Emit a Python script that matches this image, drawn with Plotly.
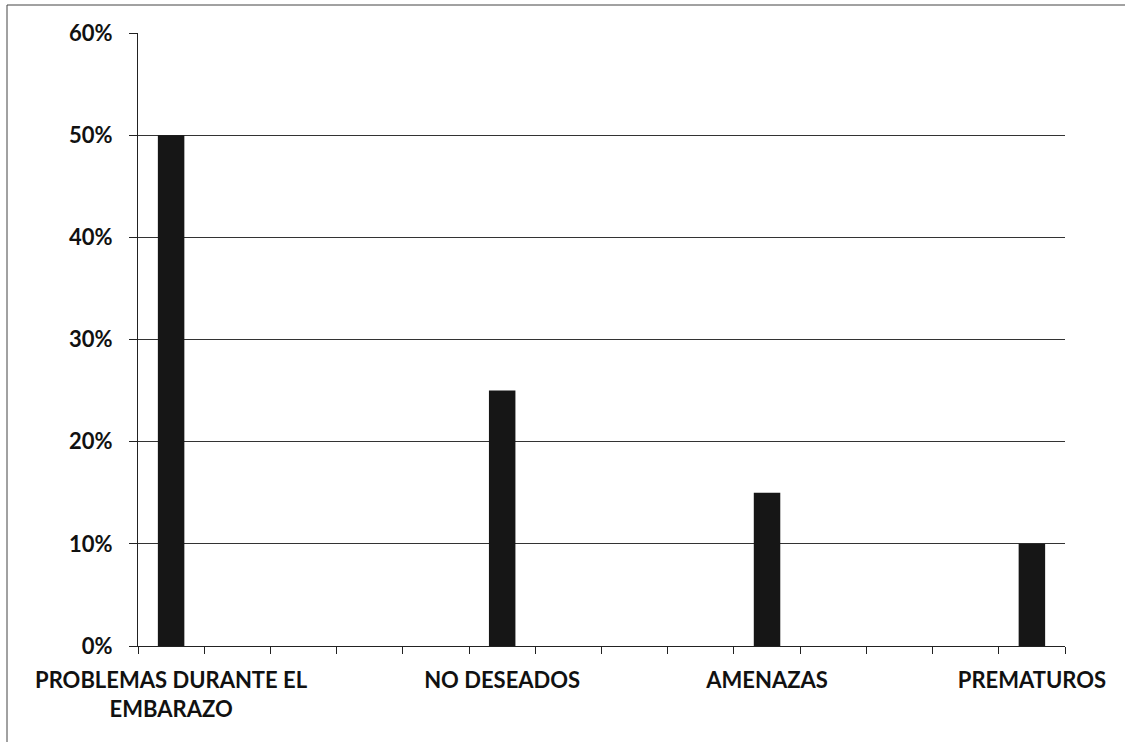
import plotly.graph_objects as go

# Categories (14 slots; unnamed slots are empty in the original chart)
categories = [
    "PROBLEMAS DURANTE EL<br>EMBARAZO", " ", "  ", "   ", "    ",
    "NO DESEADOS", "     ", "      ", "       ",
    "AMENAZAS", "        ", "         ", "          ",
    "PREMATUROS",
]
values = [0.50, None, None, None, None,
          0.25, None, None, None,
          0.15, None, None, None,
          0.10]
y_ticks = [0, 0.1, 0.2, 0.3, 0.4, 0.5, 0.6]

W, H = 1125, 742
L, R, T, B = 138, 60, 33, 96
pw, ph = W - L - R, H - T - B

family = "Lato, 'Open Sans', sans-serif"
tickfont = dict(family=family, size=22, color="#111111", weight="bold")

fig = go.Figure(go.Bar(
    x=categories, y=values,
    marker=dict(color="#161616", line=dict(width=0)),
    showlegend=False,
))

fig.update_layout(
    width=W, height=H,
    margin=dict(l=L, r=R, t=T, b=B, pad=0, autoexpand=False),
    paper_bgcolor="white", plot_bgcolor="white",
    bargap=0.6,
    font=dict(family=family, size=22, color="#111111"),
    xaxis=dict(
        type="category", categoryorder="array", categoryarray=categories,
        tickson="boundaries", ticks="outside", ticklen=7, tickwidth=1,
        tickcolor="#222222", showline=True, linecolor="#222222", linewidth=1,
        showgrid=False, tickfont=tickfont, tickangle=0, automargin=False,
        ticklabelstandoff=15,
    ),
    yaxis=dict(
        range=[0, 0.6], tickvals=y_ticks, tickformat=".0%",
        ticks="outside", ticklen=8, tickwidth=1, tickcolor="#222222",
        showline=True, linecolor="#222222", linewidth=1,
        showgrid=True, gridcolor="#333333", gridwidth=1, zeroline=False,
        tickfont=tickfont, automargin=False,
        ticklabelstandoff=12,
    ),
    shapes=[
        dict(type="line", xref="paper", yref="paper",
             x0=(7 - L) / pw, x1=(W - L) / pw + 0.01, y0=(H - B - 5) / ph, y1=(H - B - 5) / ph,
             line=dict(color="#444444", width=1)),
        dict(type="line", xref="paper", yref="paper",
             x0=(7 - L) / pw, x1=(7 - L) / pw, y0=(H - B - 5) / ph, y1=-B / ph - 0.01,
             line=dict(color="#444444", width=1)),
    ],
)

fig.write_html("out.html")
